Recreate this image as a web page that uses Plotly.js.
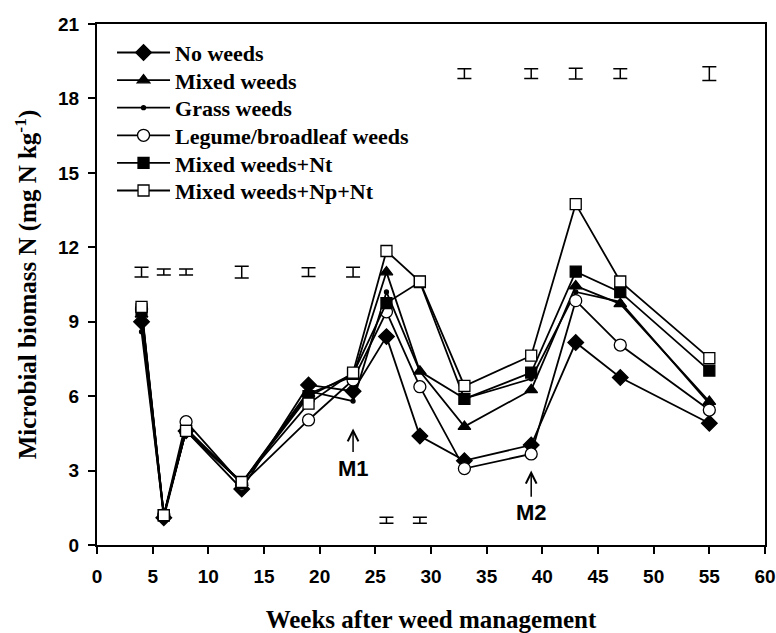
<!DOCTYPE html>
<html>
<head>
<meta charset="utf-8">
<script src="https://cdn.plot.ly/plotly-3.0.1.min.js"></script>
<style>html,body{margin:0;padding:0;background:#fff;}#chart{width:776px;height:633px;}</style>
</head>
<body>
<div id="chart"></div>
<script>
const weeks = [4, 6, 8, 13, 19, 23, 26, 29, 33, 39, 43, 47, 55];
const noWeeds = [9.0, 1.1, 4.6, 2.26, 6.45, 6.2, 8.4, 4.39, 3.4, 4.03, 8.16, 6.75, 4.91];
const mixedWeeds = [9.3, 1.2, 4.6, 2.5, 6.1, 6.8, 11.0, 7.0, 4.77, 6.25, 10.44, 9.72, 5.78];
const grassWeeds = [8.6, 1.2, 4.7, 2.5, 6.2, 5.8, 10.2, 7.0, 5.9, 6.7, 10.2, 9.8, 5.7];
const legumeWeeds = [9.5, 1.2, 4.97, 2.45, 5.04, 6.65, 9.4, 6.38, 3.08, 3.67, 9.85, 8.06, 5.44];
const mixedNt = [9.5, 1.2, 4.6, 2.5, 6.0, 6.9, 9.75, 10.6, 5.89, 6.95, 11.02, 10.19, 7.03];
const mixedNpNt = [9.6, 1.2, 4.6, 2.54, 5.7, 6.95, 11.85, 10.62, 6.41, 7.63, 13.74, 10.62, 7.53];
const lsdY = [11, 11, 11, 11, 11, 11, 1, 1, 19, 19, 19, 19, 19];
const lsdErr = [0.2, 0.12, 0.12, 0.24, 0.18, 0.2, 0.12, 0.12, 0.2, 0.2, 0.22, 0.2, 0.28];
const seriesNames = ["No weeds", "Mixed weeds", "Grass weeds", "Legume/broadleaf weeds", "Mixed weeds+Nt", "Mixed weeds+Np+Nt"];
const legendRowsY = [0.9449, 0.8919, 0.8390, 0.7860, 0.7330, 0.6800];

const lineStyle = {color: "#000", width: 1.8};
const legendIds = ["legend", "legend2", "legend3", "legend4", "legend5", "legend6"];
function tr(i, y, symbol, size, fill) {
  return {
    x: weeks, y: y, name: seriesNames[i], type: "scatter", mode: "lines+markers",
    legend: legendIds[i],
    line: lineStyle,
    marker: {symbol: symbol, size: size, color: fill, line: {color: "#000", width: 1.3}}
  };
}
const data = [
  tr(0, noWeeds, "diamond", 12, "#000"),
  tr(1, mixedWeeds, "triangle-up", 11, "#000"),
  tr(2, grassWeeds, "circle", 4, "#000"),
  tr(3, legumeWeeds, "circle", 12, "#fff"),
  tr(4, mixedNt, "square", 11, "#000"),
  tr(5, mixedNpNt, "square", 11, "#fff"),
  {
    x: weeks, y: lsdY, type: "scatter", mode: "markers", showlegend: false,
    marker: {size: 1, color: "rgba(0,0,0,0)"},
    error_y: {type: "data", array: lsdErr, visible: true, color: "#000", thickness: 1.5, width: 7},
    hoverinfo: "skip"
  }
];

const tickFont = {family: "Liberation Sans, Arial, sans-serif", size: 19, color: "#000", weight: "bold"};
const titleFont = {family: "Liberation Serif, Times New Roman, serif", size: 25, color: "#000", weight: "bold"};
const legendFont = {family: "Liberation Serif, Times New Roman, serif", size: 22, color: "#000", weight: "bold"};
const markFont = {family: "Liberation Sans, Arial, sans-serif", size: 22, color: "#000", weight: "bold"};

const layout = {
  width: 776, height: 633,
  margin: {l: 97, r: 11, t: 24, b: 88},
  paper_bgcolor: "#fff", plot_bgcolor: "#fff",
  showlegend: true,
  xaxis: {
    range: [0, 60], dtick: 5, tick0: 0,
    showline: true, linecolor: "#000", linewidth: 2, mirror: true,
    ticks: "outside", ticklen: 7, tickwidth: 2, tickcolor: "#000", ticklabelstandoff: 6,
    showgrid: false, zeroline: false, tickfont: tickFont,
    title: {text: "Weeks after weed management", font: titleFont, standoff: 26}
  },
  yaxis: {
    range: [0, 21], dtick: 3, tick0: 0,
    showline: true, linecolor: "#000", linewidth: 2, mirror: true,
    ticks: "outside", ticklen: 7, tickwidth: 2, tickcolor: "#000", ticklabelstandoff: 5,
    showgrid: false, zeroline: false, tickfont: tickFont,
    title: {text: "Microbial biomass N (mg N kg<sup>-1</sup>)", font: titleFont, standoff: 14}
  },
  annotations: [
    {x: 23, y: 4.7, xref: "x", yref: "y", ax: 23, ay: 3.1, axref: "x", ayref: "y", text: "M1", font: markFont, showarrow: true, arrowhead: 5, arrowsize: 1.4, arrowwidth: 1.5, arrowcolor: "#000", standoff: 0, startstandoff: 2},
    {x: 39, y: 3.0, xref: "x", yref: "y", ax: 39, ay: 1.3, axref: "x", ayref: "y", text: "M2", font: markFont, showarrow: true, arrowhead: 5, arrowsize: 1.4, arrowwidth: 1.5, arrowcolor: "#000", standoff: 0, startstandoff: 2}
  ]
};
legendIds.forEach(function (id, i) {
  layout[id] = {
    x: 0.0225, y: legendRowsY[i], xanchor: "left", yanchor: "middle",
    font: legendFont, bgcolor: "rgba(0,0,0,0)", itemwidth: 53, borderwidth: 0
  };
});

Plotly.newPlot("chart", data, layout, {displayModeBar: false, staticPlot: true});
</script>
</body>
</html>
